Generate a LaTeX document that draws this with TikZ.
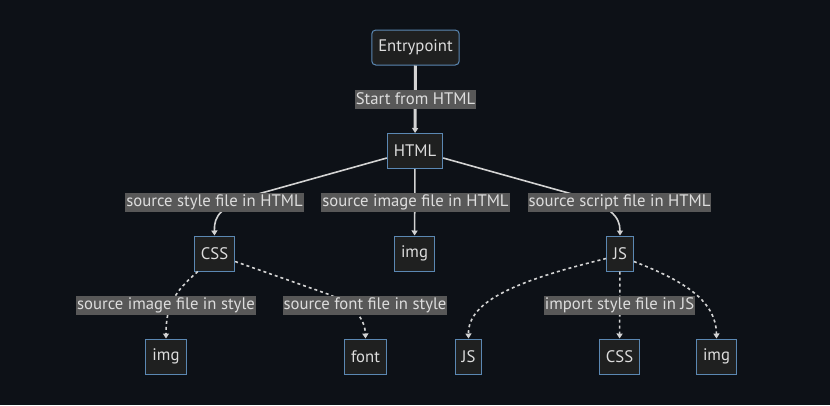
\documentclass[tikz,border=0pt]{standalone}
\usepackage{fontspec}
\setmainfont{PT Sans}
\usetikzlibrary{arrows.meta}

\definecolor{bgdark}{HTML}{0D1117}
\definecolor{boxfill}{HTML}{1F2020}
\definecolor{boxline}{HTML}{5B88B3}
\definecolor{linkgray}{HTML}{D3D3D3}
\definecolor{labelbg}{HTML}{585858}
\definecolor{textgray}{HTML}{DDDDDD}

\begin{document}
\begin{tikzpicture}[
    x=1pt, y=-1pt,
    file/.style={draw=boxline, fill=boxfill, line width=1pt, minimum height=35pt, inner xsep=6.5pt, text=textgray, font=\fontsize{16.7}{19}\selectfont},
    entry/.style={file, rounded corners=4pt},
    edgelabel/.style={fill=labelbg, text=textgray, inner xsep=1pt, inner ysep=0pt, minimum height=19pt, font=\fontsize{16.7}{19}\selectfont},
    arrow/.style={-{Triangle[width=6pt, length=5pt]}, line width=1.6pt, draw=linkgray},
    thickarrow/.style={arrow, line width=3pt},
    dotarrow/.style={arrow, dash pattern=on 3pt off 3pt}
]

    \fill[bgdark] (0,0) rectangle (830,405);

    \node[entry] (entry) at (415.5,47.5) {Entrypoint};
    \node[file] (html) at (415,151) {HTML};

    \node[file] (css) at (214.5,253.5) {CSS};
    \node[file] (img) at (414.5,253.5) {img};
    \node[file] (js) at (620,253.5) {JS};

    \node[file] (cssimg) at (166,356.5) {img};
    \node[file] (cssfont) at (365.5,356.5) {font};
    \node[file] (jsjs) at (468.5,356.5) {JS};
    \node[file] (jscss) at (619.5,356.5) {CSS};
    \node[file] (jsimg) at (716.5,356.5) {img};

    \draw[thickarrow] (entry) -- (html);

    \draw[arrow] ([yshift=-7pt]html.west) -- (258,194) .. controls (220,206) and (214,216) .. (css.north);
    \draw[arrow] (html) -- (img);
    \draw[arrow] ([yshift=-7pt]html.east) -- (572,194) .. controls (610,206) and (620,216) .. (js.north);

    \draw[dotarrow] ([xshift=4pt]css.south west) .. controls (174,292) and (166,306) .. (cssimg.north);
    \draw[dotarrow] ([yshift=-8pt]css.east) -- (322,292) .. controls (352,302) and (365,318) .. (cssfont.north);

    \draw[dotarrow] ([yshift=-5pt]js.west) .. controls (520,280) and (468,300) .. (jsjs.north);
    \draw[dotarrow] (js) -- (jscss);
    \draw[dotarrow] ([yshift=-8pt]js.east) .. controls (682,280) and (716,300) .. (jsimg.north);

    % edge labels
    \node[edgelabel] (lstart) at (415.5,99) {Start from HTML};
    \node[edgelabel] (lstyle) at (214.5,202.5) {source style file in HTML};
    \node[edgelabel] (limage) at (415.5,202.5) {source image file in HTML};
    \node[edgelabel] (lscript) at (619.5,202.5) {source script file in HTML};
    \node[edgelabel] (lsimg) at (166,305.5) {source image file in style};
    \node[edgelabel] (lsfont) at (365,305.5) {source font file in style};
    \node[edgelabel] (limport) at (619.5,305.5) {import style file in JS};

\end{tikzpicture}
\end{document}
